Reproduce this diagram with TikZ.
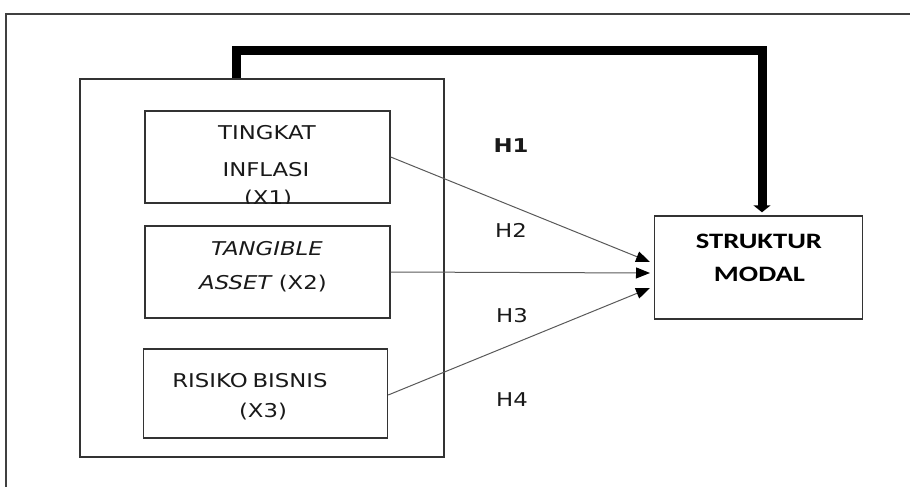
\documentclass[tikz,border=0pt]{standalone}
\usepackage{fontspec}
\setmainfont{DejaVu Sans}
\newfontfamily\dfont{DejaVu Sans}
\newfontfamily\sfont[FakeStretch=1.3]{Carlito}
\newcommand{\wide}[1]{\scalebox{1.2}[1]{#1}}
\usetikzlibrary{arrows.meta}
\begin{document}
\begin{tikzpicture}[x=1pt,y=-1pt,
  frame/.style={draw=black!75,line width=1.6pt},
  box/.style={draw=black!80,line width=1.4pt,rectangle,inner sep=0pt},
  txt/.style={font=\dfont\fontsize{19}{21}\selectfont,anchor=base,inner sep=0pt,text=black!90},
  stxt/.style={font=\sfont\bfseries\fontsize{22}{24}\selectfont,anchor=base,inner sep=0pt},
  conn/.style={draw=black!65,line width=1pt,-{Triangle[length=14pt,width=11pt,color=black]}},
  bigarrow/.style={draw=black,line width=9pt,-{Triangle[length=7pt,width=17pt]}}]
\useasboundingbox (0,0) rectangle (910,487);
% outer frame
\draw[frame] (6,492) -- (6,14) -- (916,14);
% boxes
\node[box,minimum width=364pt,minimum height=378pt] (g) at (262,268) {};
\node[box,minimum width=245pt,minimum height=92pt] (x1) at (267.5,157) {};
\node[box,minimum width=245pt,minimum height=92pt] (x2) at (267.5,272) {};
\node[box,minimum width=244pt,minimum height=89pt] (x3) at (265.5,393.5) {};
\node[box,minimum width=208pt,minimum height=103pt] (sm) at (758.5,267.5) {};
% texts
\node[txt] (t1a) at (267,139) {\wide{TINGKAT}};
\node[txt] (t1b) at (266,176.5) {\wide{INFLASI}};
\begin{scope}
  \clip (x1.south west) rectangle (x1.north east);
  \node[txt] (t1c) at (268,204) {\wide{(X1)}};
\end{scope}
\node[txt] (t2a) at (267,255) {\wide{\itshape TANGIBLE}};
\node[txt] (t2b) at (263,289) {\wide{\textit{ASSET}\kern-1pt\ (X2)}};
\node[txt] (t3a) at (250,387) {\wide{RISIKO\kern-2pt\ BISNIS}};
\node[txt] (t3b) at (263,417) {\wide{(X3)}};
\node[stxt] (s1) at (759,248) {STRUKTUR};
\node[stxt] (s2) at (759.5,281) {MODAL};
% hypothesis labels
\node[txt] (h1) at (511,152) {\wide{\bfseries H1}};
\node[txt] (h2) at (511,237) {\wide{H2}};
\node[txt] (h3) at (512,322) {\wide{H3}};
\node[txt] (h4) at (512,406) {\wide{H4}};
% connectors
\coordinate (e1) at (650,262);
\coordinate (e2) at (650,273);
\coordinate (e3) at (650,288);
\draw[conn] (x1.east) -- (e1);
\draw[conn] (x2.east) -- (e2);
\draw[conn] (x3.east |- 0,395) -- (e3);
\coordinate (c1) at (236,51);
\coordinate (c2) at (762,51);
\draw[bigarrow,shorten >=3pt] (g.north -| c1) -- (c1) -- (c2) -- (sm.north -| c2);
\end{tikzpicture}
\end{document}
